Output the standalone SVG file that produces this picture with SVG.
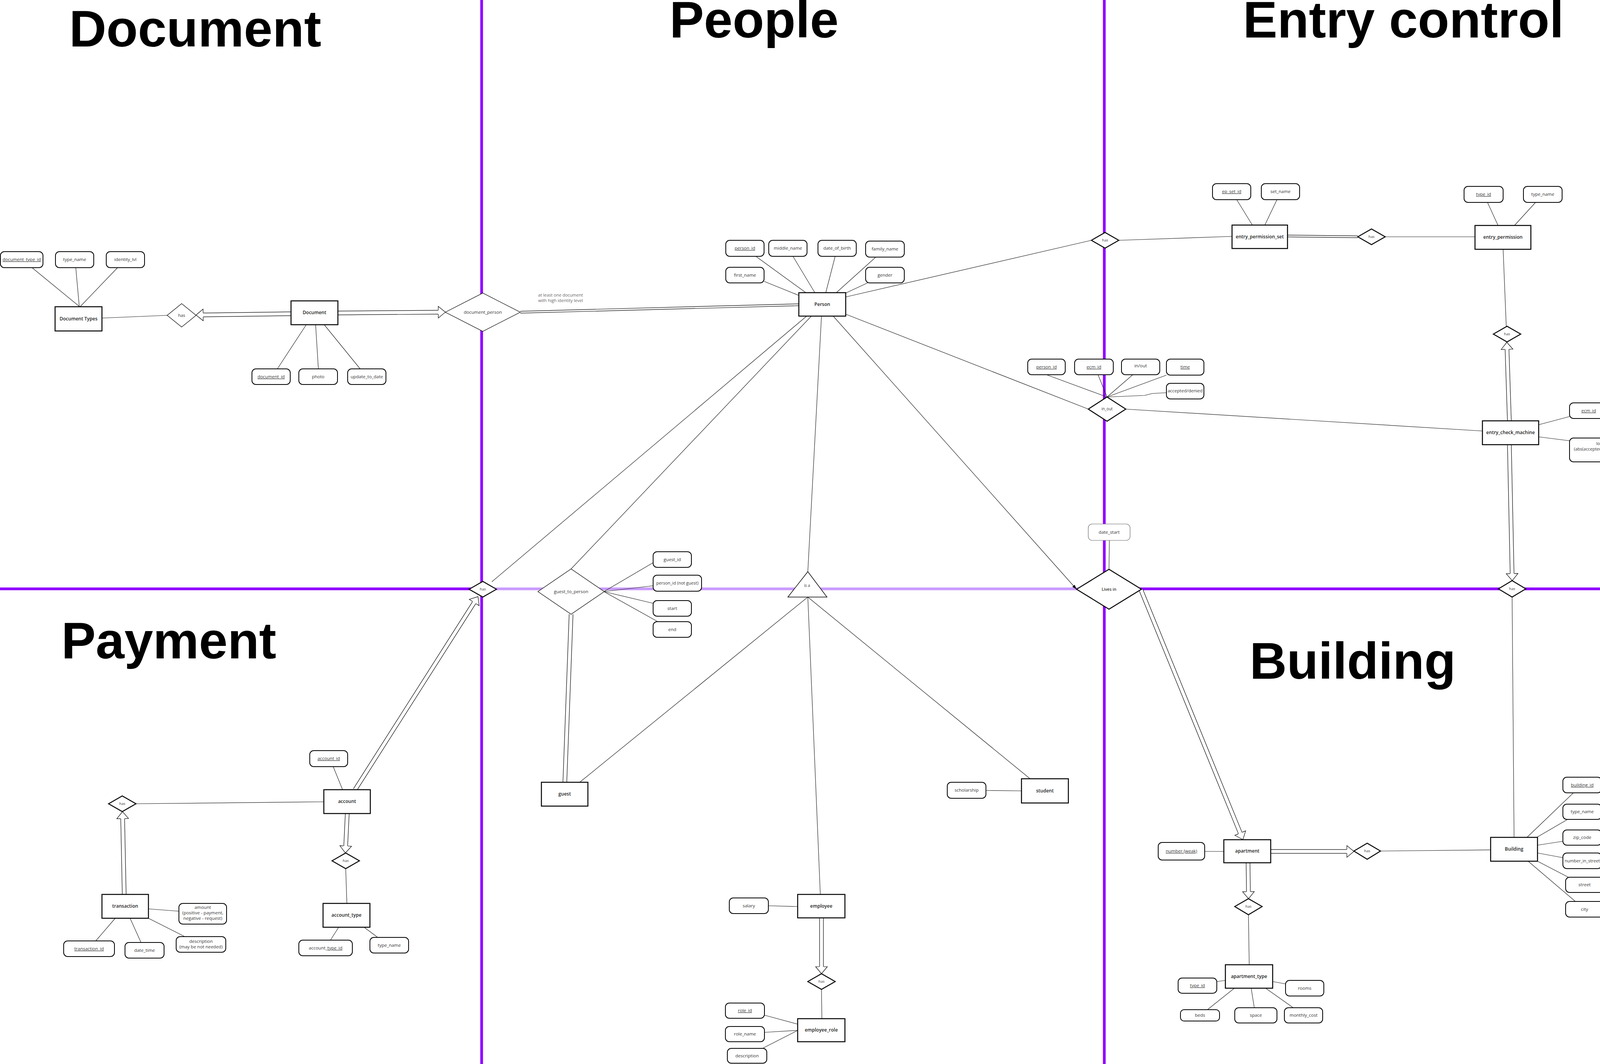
<svg xmlns="http://www.w3.org/2000/svg" width="4304" height="2723" viewBox="0 0 4304 2723">
<defs>
<style>
text{font-family:"Open Sans","Liberation Sans",sans-serif}
.hdr{font-family:"Liberation Sans",Arial,sans-serif;font-weight:bold;font-size:132px;fill:#000}
.ent rect{fill:#fff;stroke:#000;stroke-width:2.5}
.ent text{font-size:12px;font-weight:600;fill:#222;text-anchor:middle}
.att rect{fill:#fff;stroke:#000;stroke-width:2}
.att text{font-size:11.5px;fill:#333;text-anchor:middle}
.rel polygon{fill:#fff;stroke:#000;stroke-width:2.5}
.rel.thin polygon{stroke-width:1.2}
.rel text{font-size:9.5px;fill:#333;text-anchor:middle}
.ln{stroke:#222;stroke-width:1.2;fill:none}
.dbo{stroke:#000;stroke-width:11;fill:none}
.dbi{stroke:#fff;stroke-width:8.6;fill:none}
.dto{stroke:#000;stroke-width:6;fill:none}
.dti{stroke:#fff;stroke-width:3.6;fill:none}
.u{text-decoration:underline}
.pd{stroke:#8f00ff;stroke-width:7;fill:none}
.pl{stroke:#c99bff;stroke-width:7;fill:none}
.note{font-size:11px;fill:#666;text-anchor:middle}
</style>
<marker id="ha" viewBox="0 0 20 32" refX="0" refY="16" markerWidth="20" markerHeight="32" markerUnits="userSpaceOnUse" orient="auto" overflow="visible">
<polygon points="0,1 18,16 0,31" fill="#fff"/>
<polyline points="0,10.5 0,1 18,16 0,31 0,21.5" fill="none" stroke="#000" stroke-width="1.2"/>
</marker>
<marker id="sa" viewBox="0 0 12 8" refX="12" refY="4" markerWidth="12" markerHeight="8" markerUnits="userSpaceOnUse" orient="auto">
<path d="M0,0 L12,4 L0,8 z" fill="#000"/>
</marker>
</defs>
<rect width="4304" height="2723" fill="#fff"/>

<g id="dividers">
<line class="pl" x1="1233" y1="1507" x2="2838" y2="1507"/>
<line class="pd" x1="0" y1="1507" x2="1233" y2="1507"/>
<line class="pd" x1="2838" y1="1507" x2="4304" y2="1507"/>
<line class="pd" x1="1233" y1="0" x2="1233" y2="2723"/>
<line class="pd" x1="2827" y1="0" x2="2827" y2="2723"/>
</g>

<g id="headers">
<text class="hdr" x="177" y="119">Document</text>
<text class="hdr" x="1714" y="96">People</text>
<text class="hdr" x="3182" y="96">Entry control</text>
<text class="hdr" x="157" y="1685">Payment</text>
<text class="hdr" x="3199" y="1737">Building</text>
</g>

<g id="connectors">
<!-- Document -->
<line class="ln" x1="82" y1="685" x2="204" y2="785"/>
<line class="ln" x1="194" y1="685" x2="203" y2="785"/>
<line class="ln" x1="301" y1="685" x2="205" y2="785"/>
<line class="ln" x1="261" y1="814" x2="428" y2="807"/>
<line class="ln" x1="710" y1="944" x2="784" y2="831"/>
<line class="ln" x1="815" y1="944" x2="808" y2="831"/>
<line class="ln" x1="922" y1="944" x2="830" y2="831"/>
<path class="dbo" d="M745,803 L520,806"/><path class="dbi" d="M745,803 L520,806" marker-end="url(#ha)"/>
<path class="dbo" d="M865,801 L1122,799"/><path class="dbi" d="M865,801 L1122,799" marker-end="url(#ha)"/>
<!-- People -->
<line class="ln" x1="1935" y1="656" x2="2063" y2="749"/>
<line class="ln" x1="2030" y1="656" x2="2086" y2="749"/>
<line class="ln" x1="2138" y1="656" x2="2114" y2="749"/>
<line class="ln" x1="2242" y1="658" x2="2141" y2="749"/>
<line class="ln" x1="1956" y1="720" x2="2045" y2="756"/>
<line class="ln" x1="2221" y1="724" x2="2165" y2="750"/>
<path class="dto" d="M2045,780 L1332,799"/><path class="dti" d="M2045,780 L1332,799"/>
<line class="ln" x1="2165" y1="760" x2="2794" y2="615"/>
<line class="ln" x1="2165" y1="804" x2="2786" y2="1047"/>
<line class="ln" x1="2133" y1="809" x2="2756" y2="1508" marker-end="url(#sa)"/>
<line class="ln" x1="2103" y1="809" x2="2068" y2="1463"/>
<line class="ln" x1="2077" y1="809" x2="1462" y2="1456"/>
<line class="ln" x1="2065" y1="809" x2="1259" y2="1489"/>
<line class="ln" x1="1546" y1="1514" x2="1672" y2="1440"/>
<line class="ln" x1="1546" y1="1514" x2="1672" y2="1499"/>
<line class="ln" x1="1546" y1="1514" x2="1672" y2="1544"/>
<line class="ln" x1="1546" y1="1514" x2="1684" y2="1591"/>
<path class="dbo" d="M1462,1572 L1446,2002"/><path class="dbi" d="M1462,1572 L1446,2002"/>
<line class="ln" x1="2068" y1="1528" x2="1484" y2="2002"/>
<line class="ln" x1="2068" y1="1528" x2="2100" y2="2289"/>
<line class="ln" x1="2068" y1="1528" x2="2637" y2="1993"/>
<line class="ln" x1="2524" y1="2023" x2="2615" y2="2024"/>
<line class="ln" x1="1967" y1="2318" x2="2042" y2="2320"/>
<path class="dbo" d="M2103,2349 L2103,2474"/><path class="dbi" d="M2103,2349 L2103,2474" marker-end="url(#ha)"/>
<line class="ln" x1="2103" y1="2532" x2="2104" y2="2607"/>
<line class="ln" x1="1957" y1="2598" x2="2042" y2="2621"/>
<line class="ln" x1="1957" y1="2642" x2="2042" y2="2637"/>
<line class="ln" x1="1952" y1="2683" x2="2042" y2="2637"/>
<!-- Payment -->
<line class="ln" x1="853" y1="1962" x2="877" y2="2021"/>
<path class="dbo" d="M909,2021 L1214,1542"/><path class="dbi" d="M909,2021 L1214,1542" marker-end="url(#ha)"/>
<line class="ln" x1="348" y1="2057" x2="829" y2="2052"/>
<path class="dbo" d="M318,2289 L314,2095"/><path class="dbi" d="M318,2289 L314,2095" marker-end="url(#ha)"/>
<path class="dbo" d="M889,2082 L885,2165"/><path class="dbi" d="M889,2082 L885,2165" marker-end="url(#ha)"/>
<line class="ln" x1="885" y1="2223" x2="888" y2="2312"/>
<line class="ln" x1="846" y1="2406" x2="867" y2="2373"/>
<line class="ln" x1="967" y1="2399" x2="932" y2="2373"/>
<line class="ln" x1="380" y1="2326" x2="458" y2="2332"/>
<line class="ln" x1="245" y1="2408" x2="295" y2="2350"/>
<line class="ln" x1="361" y1="2412" x2="333" y2="2350"/>
<line class="ln" x1="473" y1="2397" x2="380" y2="2350"/>
<!-- Entry control -->
<line class="ln" x1="2864" y1="615" x2="3154" y2="605"/>
<path class="dto" d="M3296,604 L3476,606"/><path class="dti" d="M3296,604 L3476,606"/>
<line class="ln" x1="3776" y1="606" x2="3546" y2="606"/>
<line class="ln" x1="3166" y1="511" x2="3206" y2="576"/>
<line class="ln" x1="3269" y1="511" x2="3238" y2="576"/>
<line class="ln" x1="3808" y1="518" x2="3835" y2="577"/>
<line class="ln" x1="3931" y1="518" x2="3877" y2="577"/>
<line class="ln" x1="3848" y1="638" x2="3856" y2="835"/>
<path class="dbo" d="M3864,1077 L3858,894"/><path class="dbi" d="M3864,1077 L3858,894" marker-end="url(#ha)"/>
<path class="dbo" d="M3864,1138 L3871,1468"/><path class="dbi" d="M3864,1138 L3871,1468" marker-end="url(#ha)"/>
<line class="ln" x1="3871" y1="1528" x2="3876" y2="2143"/>
<line class="ln" x1="2679" y1="959" x2="2834" y2="1016"/>
<line class="ln" x1="2811" y1="959" x2="2834" y2="1016"/>
<line class="ln" x1="2900" y1="959" x2="2834" y2="1016"/>
<line class="ln" x1="2986" y1="960" x2="2834" y2="1016"/>
<polyline class="ln" points="2986,1005 2950,1007 2930,1012 2836,1016"/>
<line class="ln" x1="2882" y1="1047" x2="3795" y2="1103"/>
<line class="ln" x1="3939" y1="1087" x2="4018" y2="1066"/>
<line class="ln" x1="3939" y1="1118" x2="4018" y2="1128"/>
<line class="ln" x1="2840" y1="1383" x2="2839" y2="1457"/>
<path class="dbo" d="M2921,1510 L3175,2132"/><path class="dbi" d="M2921,1510 L3175,2132" marker-end="url(#ha)"/>
<!-- Building -->
<line class="ln" x1="3084" y1="2179" x2="3133" y2="2179"/>
<path class="dbo" d="M3253,2179 L3448,2179"/><path class="dbi" d="M3253,2179 L3448,2179" marker-end="url(#ha)"/>
<line class="ln" x1="3534" y1="2178" x2="3816" y2="2175"/>
<path class="dbo" d="M3195,2208 L3196,2282"/><path class="dbi" d="M3195,2208 L3196,2282" marker-end="url(#ha)"/>
<line class="ln" x1="3196" y1="2341" x2="3198" y2="2469"/>
<line class="ln" x1="4028" y1="2029" x2="3909" y2="2143"/>
<line class="ln" x1="4013" y1="2097" x2="3934" y2="2143"/>
<line class="ln" x1="4001" y1="2153" x2="3936" y2="2163"/>
<line class="ln" x1="4001" y1="2195" x2="3936" y2="2183"/>
<line class="ln" x1="4015" y1="2245" x2="3936" y2="2204"/>
<line class="ln" x1="4033" y1="2307" x2="3912" y2="2204"/>
<line class="ln" x1="3115" y1="2512" x2="3137" y2="2509"/>
<line class="ln" x1="3291" y1="2518" x2="3258" y2="2512"/>
<line class="ln" x1="3091" y1="2584" x2="3160" y2="2529"/>
<line class="ln" x1="3211" y1="2579" x2="3203" y2="2529"/>
<line class="ln" x1="3312" y1="2580" x2="3240" y2="2529"/>
</g>

<!-- Document nodes -->
<g id="document_types" class="ent"><rect x="141" y="785" width="120" height="62"/><text x="201" y="820">Document Types</text></g>
<g id="attr_document_type_id" class="att"><rect x="1" y="644" width="109" height="41" rx="10"/><text class="u" x="55.5" y="668">document_type_id</text></g>
<g id="attr_doc_type_name" class="att"><rect x="142" y="644" width="98" height="41" rx="10"/><text x="191" y="668">type_name</text></g>
<g id="attr_identity_lvl" class="att"><rect x="272" y="644" width="98" height="41" rx="10"/><text x="321" y="668">identity_lvl</text></g>
<g id="rel_doc_has" class="rel thin"><polygon points="428,807 465,777 502,807 465,837"/><text x="465" y="811" style="font-size:11px">has</text></g>
<g id="document" class="ent"><rect x="745" y="770" width="120" height="61"/><text x="805" y="804">Document</text></g>
<g id="attr_document_id" class="att"><rect x="645" y="944" width="98" height="40" rx="10"/><text class="u" x="694" y="968">document_id</text></g>
<g id="attr_photo" class="att"><rect x="765" y="944" width="99" height="40" rx="10"/><text x="814.5" y="968">photo</text></g>
<g id="attr_update_to_date" class="att"><rect x="890" y="944" width="98" height="40" rx="10"/><text x="939" y="968">update_to_date</text></g>

<!-- People nodes -->
<g id="rel_document_person" class="rel thin"><polygon points="1140,799 1236,750 1332,799 1236,848"/><text x="1236" y="803" style="font-size:11.5px">document_person</text></g>
<g id="note_document_person"><text class="note" x="1435" y="759">at least one document</text><text class="note" x="1435" y="773">with high identity level</text></g>
<g id="person" class="ent"><rect x="2045" y="749" width="120" height="60"/><text x="2105" y="783">Person</text></g>
<g id="attr_person_id" class="att"><rect x="1858" y="615" width="98" height="41" rx="10"/><text class="u" x="1907" y="639">person_id</text></g>
<g id="attr_middle_name" class="att"><rect x="1968" y="615" width="98" height="41" rx="10"/><text x="2017" y="639">middle_name</text></g>
<g id="attr_date_of_birth" class="att"><rect x="2094" y="615" width="98" height="41" rx="10"/><text x="2143" y="639">date_of_birth</text></g>
<g id="attr_family_name" class="att"><rect x="2216" y="617" width="99" height="41" rx="10"/><text x="2265.5" y="641">family_name</text></g>
<g id="attr_first_name" class="att"><rect x="1858" y="684" width="98" height="40" rx="10"/><text x="1907" y="708">first_name</text></g>
<g id="attr_gender" class="att"><rect x="2216" y="684" width="99" height="40" rx="10"/><text x="2265.5" y="708">gender</text></g>
<g id="rel_guest_to_person" class="rel thin"><polygon points="1377,1514 1462,1456 1547,1514 1462,1572"/><text x="1462" y="1518" style="font-size:11.5px">guest_to_person</text></g>
<g id="attr_guest_id" class="att"><rect x="1672" y="1412" width="98" height="40" rx="10"/><text x="1721" y="1436">guest_id</text></g>
<g id="attr_person_id_not_guest" class="att"><rect x="1672" y="1472" width="124" height="41" rx="10"/><text x="1734" y="1496" style="font-size:11px">person_id (not guest)</text></g>
<g id="attr_start" class="att"><rect x="1672" y="1537" width="98" height="40" rx="10"/><text x="1721" y="1561">start</text></g>
<g id="attr_end" class="att"><rect x="1672" y="1591" width="98" height="40" rx="10"/><text x="1721" y="1615">end</text></g>
<g id="isa" class="rel"><polygon points="2068,1463 2117,1528 2017,1528" style="stroke-width:1.5"/><text x="2066" y="1502" style="font-size:10px">is a</text></g>
<g id="guest" class="ent"><rect x="1386" y="2002" width="119" height="61"/><text x="1445.5" y="2036">guest</text></g>
<g id="student" class="ent"><rect x="2615" y="1993" width="120" height="62"/><text x="2675" y="2028">student</text></g>
<g id="attr_scholarship" class="att"><rect x="2425" y="2002" width="99" height="41" rx="10"/><text x="2474.5" y="2026">scholarship</text></g>
<g id="employee" class="ent"><rect x="2042" y="2289" width="121" height="60"/><text x="2102.5" y="2323">employee</text></g>
<g id="attr_salary" class="att"><rect x="1867" y="2298" width="100" height="40" rx="10"/><text x="1917" y="2322">salary</text></g>
<g id="rel_employee_has" class="rel"><polygon points="2068,2512 2103,2492 2138,2512 2103,2532"/><text x="2103" y="2515">has</text></g>
<g id="employee_role" class="ent"><rect x="2042" y="2607" width="121" height="59"/><text x="2102.5" y="2640">employee_role</text></g>
<g id="attr_role_id" class="att"><rect x="1857" y="2567" width="100" height="39" rx="10"/><text class="u" x="1907" y="2590">role_id</text></g>
<g id="attr_role_name" class="att"><rect x="1857" y="2627" width="100" height="39" rx="10"/><text x="1907" y="2650">role_name</text></g>
<g id="attr_role_description" class="att"><rect x="1862" y="2683" width="101" height="38" rx="10"/><text x="1912.5" y="2706">description</text></g>

<!-- Payment nodes -->
<g id="rel_person_account_has" class="rel"><polygon points="1201,1508 1236,1488 1271,1508 1236,1528"/><text x="1236" y="1511">has</text></g>
<g id="account" class="ent"><rect x="829" y="2021" width="119" height="61"/><text x="888.5" y="2055">account</text></g>
<g id="attr_account_id" class="att"><rect x="793" y="1921" width="97" height="41" rx="10"/><text class="u" x="841.5" y="1945">account_id</text></g>
<g id="rel_transaction_has" class="rel"><polygon points="278,2057 313,2037 348,2057 313,2077"/><text x="313" y="2060">has</text></g>
<g id="rel_account_type_has" class="rel"><polygon points="850,2203 885,2183 920,2203 885,2223"/><text x="885" y="2206">has</text></g>
<g id="account_type" class="ent"><rect x="827" y="2312" width="120" height="61"/><text x="887" y="2346">account_type</text></g>
<g id="attr_account_type_id" class="att"><rect x="765" y="2406" width="137" height="40" rx="10"/><text x="833.5" y="2430">account_<tspan class="u">type_id</tspan></text></g>
<g id="attr_account_type_name" class="att"><rect x="947" y="2399" width="99" height="40" rx="10"/><text x="996.5" y="2423">type_name</text></g>
<g id="transaction" class="ent"><rect x="261" y="2289" width="119" height="61"/><text x="320.5" y="2323">transaction</text></g>
<g id="attr_amount" class="att"><rect x="458" y="2312" width="122" height="53" rx="10"/><text x="519" y="2326">amount</text><text x="519" y="2340">(positive - payment,</text><text x="519" y="2354">negative - request)</text></g>
<g id="attr_transaction_id" class="att"><rect x="163" y="2408" width="130" height="40" rx="10"/><text class="u" x="228" y="2432">transaction_id</text></g>
<g id="attr_date_time" class="att"><rect x="320" y="2412" width="100" height="40" rx="10"/><text x="370" y="2436">date_time</text></g>
<g id="attr_tx_description" class="att"><rect x="451" y="2397" width="127" height="40" rx="10"/><text x="514.5" y="2413">description</text><text x="514.5" y="2427">(may be not needed)</text></g>

<!-- Entry control nodes -->
<g id="rel_person_eps_has" class="rel"><polygon points="2794,615 2829,595 2864,615 2829,635"/><text x="2829" y="618">has</text></g>
<g id="entry_permission_set" class="ent"><rect x="3154" y="576" width="142" height="60"/><text x="3225" y="610">entry_permission_set</text></g>
<g id="attr_ep_set_id" class="att"><rect x="3104" y="470" width="98" height="41" rx="10"/><text class="u" x="3153" y="494">ep_set_id</text></g>
<g id="attr_set_name" class="att"><rect x="3229" y="470" width="98" height="41" rx="10"/><text x="3278" y="494">set_name</text></g>
<g id="rel_eps_ep_has" class="rel"><polygon points="3476,606 3511,586 3546,606 3511,626"/><text x="3511" y="609">has</text></g>
<g id="entry_permission" class="ent"><rect x="3776" y="577" width="143" height="61"/><text x="3847.5" y="611">entry_permission</text></g>
<g id="attr_ep_type_id" class="att"><rect x="3748" y="477" width="100" height="41" rx="10"/><text class="u" x="3798" y="501">type_id</text></g>
<g id="attr_ep_type_name" class="att"><rect x="3900" y="477" width="99" height="41" rx="10"/><text x="3949.5" y="501">type_name</text></g>
<g id="rel_ep_ecm_has" class="rel"><polygon points="3823,855 3858,835 3893,855 3858,875"/><text x="3858" y="858">has</text></g>
<g id="rel_in_out" class="rel"><polygon points="2786,1047 2834,1016 2882,1047 2834,1078"/><text x="2834" y="1050" style="font-size:10px">in_out</text></g>
<g id="attr_io_person_id" class="att"><rect x="2631" y="919" width="96" height="40" rx="10"/><text class="u" x="2679" y="943">person_id</text></g>
<g id="attr_io_ecm_id" class="att"><rect x="2751" y="919" width="99" height="40" rx="10"/><text class="u" x="2800.5" y="943">ecm_id</text></g>
<g id="attr_in_out" class="att"><rect x="2871" y="919" width="98" height="40" rx="10"/><text x="2920" y="940">in/out</text></g>
<g id="attr_time" class="att"><rect x="2986" y="919" width="96" height="41" rx="10"/><text class="u" x="3034" y="943">time</text></g>
<g id="attr_accepted_denied" class="att"><rect x="2986" y="981" width="96" height="40" rx="10"/><text x="3034" y="1004">accepted/denied</text></g>
<g id="entry_check_machine" class="ent"><rect x="3795" y="1077" width="144" height="61"/><text x="3867" y="1111">entry_check_machine</text></g>
<g id="attr_ecm_id" class="att"><rect x="4018" y="1031" width="98" height="40" rx="10"/><text class="u" x="4067" y="1055">ecm_id</text></g>
<g id="attr_location_constraint" class="att"><rect x="4018" y="1121" width="284" height="61" rx="10"/><text x="4160" y="1139" style="font-size:11px">location_constraint_group_id</text><text x="4160" y="1153" style="font-size:11px">(abs(accepted in - accepted out) &lt;2  for each person</text><text x="4160" y="1167" style="font-size:11px">within same group)</text></g>
<g id="attr_date_start" class="att"><rect x="2786" y="1341" width="107" height="42" rx="10" style="stroke:#666;stroke-width:1.2"/><text x="2839.5" y="1366">date_start</text></g>
<g id="rel_lives_in" class="rel"><polygon points="2756,1508 2839,1457 2922,1508 2839,1559"/><text x="2839" y="1512" style="font-size:10.5px;font-weight:600">Lives in</text></g>

<!-- Building nodes -->
<g id="rel_ecm_building_has" class="rel"><polygon points="3836,1507 3871,1486 3906,1507 3871,1528"/><text x="3871" y="1510">has</text></g>
<g id="apartment" class="ent"><rect x="3133" y="2149" width="120" height="59"/><text x="3193" y="2182">apartment</text></g>
<g id="attr_number_weak" class="att"><rect x="2965" y="2156" width="119" height="45" rx="10"/><text class="u" x="3024.5" y="2182">number (weak)</text></g>
<g id="rel_apartment_building_has" class="rel"><polygon points="3466,2178 3500,2158 3534,2178 3500,2199"/><text x="3500" y="2181">has</text></g>
<g id="building" class="ent"><rect x="3816" y="2143" width="120" height="61"/><text x="3876" y="2177">Building</text></g>
<g id="attr_building_id" class="att"><rect x="4001" y="1989" width="99" height="40" rx="10"/><text class="u" x="4050.5" y="2013">building_id</text></g>
<g id="attr_building_type_name" class="att"><rect x="4001" y="2058" width="99" height="39" rx="10"/><text x="4050.5" y="2081">type_name</text></g>
<g id="attr_zip_code" class="att"><rect x="4001" y="2124" width="99" height="39" rx="10"/><text x="4050.5" y="2147">zip_code</text></g>
<g id="attr_number_in_street" class="att"><rect x="4001" y="2183" width="99" height="40" rx="10"/><text x="4050.5" y="2207" style="font-size:11px">number_in_street</text></g>
<g id="attr_street" class="att"><rect x="4008" y="2245" width="97" height="39" rx="10"/><text x="4056.5" y="2268">street</text></g>
<g id="attr_city" class="att"><rect x="4008" y="2307" width="97" height="40" rx="10"/><text x="4056.5" y="2331">city</text></g>
<g id="rel_apartment_type_has" class="rel"><polygon points="3161,2320 3196,2300 3231,2320 3196,2341"/><text x="3196" y="2323">has</text></g>
<g id="apartment_type" class="ent"><rect x="3137" y="2469" width="121" height="60"/><text x="3197.5" y="2503">apartment_type</text></g>
<g id="attr_apt_type_id" class="att"><rect x="3016" y="2503" width="99" height="39" rx="10"/><text class="u" x="3065.5" y="2526">type_id</text></g>
<g id="attr_rooms" class="att"><rect x="3291" y="2509" width="98" height="40" rx="10"/><text x="3340" y="2533">rooms</text></g>
<g id="attr_beds" class="att"><rect x="3022" y="2584" width="100" height="29" rx="9"/><text x="3072" y="2602">beds</text></g>
<g id="attr_space" class="att"><rect x="3161" y="2579" width="108" height="39" rx="10"/><text x="3215" y="2602">space</text></g>
<g id="attr_monthly_cost" class="att"><rect x="3288" y="2579" width="98" height="39" rx="10"/><text x="3337" y="2602">monthly_cost</text></g>
</svg>
